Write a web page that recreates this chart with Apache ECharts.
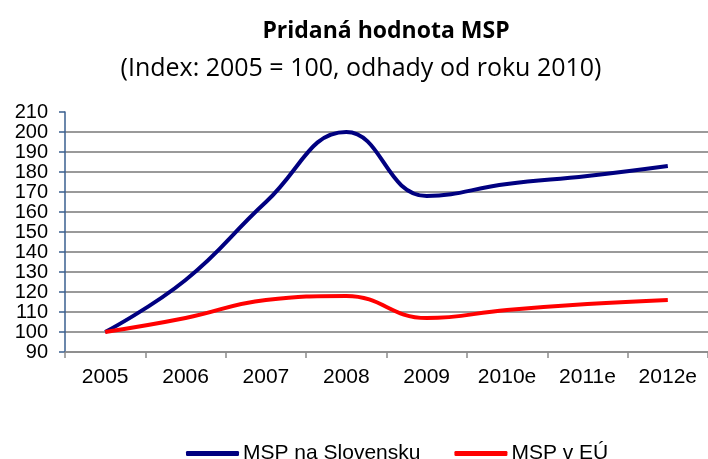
<!DOCTYPE html>
<html><head><meta charset="utf-8">
<script src="https://cdn.jsdelivr.net/npm/echarts@6/dist/echarts.min.js"></script>
<style>html,body{margin:0;padding:0;background:#fff}#c{width:708px;height:459px}</style>
</head><body><div id="c"></div>
<script>
const categories = ['2005','2006','2007','2008','2009','2010e','2011e','2012e'];
const seriesNames = ['MSP na Slovensku','MSP v EÚ'];
const slovensko = [100, 126, 165, 200, 168, 174, 178, 183];
const eu = [100, 107, 116, 118, 107, 111, 114, 116];
const yTicks = {min: 90, max: 210, interval: 10};

const chart = echarts.init(document.getElementById('c'));
const splitColors = [];
for (let v = yTicks.min; v <= yTicks.max; v += yTicks.interval) splitColors.push(v === yTicks.max ? 'rgba(0,0,0,0)' : '#9a9a9a');
chart.setOption({
  animation: false,
  title: [
    {text: 'Pridaná hodnota MSP', left: 381, top: 15, textAlign: 'center',
     textStyle: {fontFamily: 'Open Sans', fontWeight: 'bold', fontSize: 23, color: '#000'}},
    {text: '(Index: 2005 = 100, odhady od roku 2010)', left: 356, top: 51, textAlign: 'center',
     textStyle: {fontFamily: 'Open Sans', fontWeight: 'normal', fontSize: 25, color: '#000'}}
  ],
  grid: {left: 65, right: -2, top: 112, bottom: 107, containLabel: false},
  legend: {
    top: 443, left: 186, itemWidth: 53, itemHeight: 5, itemGap: 34, padding: 0,
    icon: 'roundRect',
    textStyle: {fontFamily: 'Liberation Sans', fontSize: 21, color: '#000', padding: [0,0,0,-1]},
    data: seriesNames
  },
  xAxis: {
    type: 'category', data: categories, boundaryGap: true,
    axisLine: {lineStyle: {color: '#8c8c8c', width: 1.5}},
    axisTick: {show: true, length: 6, lineStyle: {color: '#8c8c8c', width: 1.5}},
    axisLabel: {fontFamily: 'Liberation Sans', fontSize: 21, color: '#000', margin: 15}
  },
  yAxis: {
    type: 'value', min: yTicks.min, max: yTicks.max, interval: yTicks.interval,
    axisLine: {show: true, lineStyle: {color: '#3a5f8f', width: 1.5}},
    axisTick: {show: true, length: 6, lineStyle: {color: '#3a5f8f', width: 1.5}},
    axisLabel: {fontFamily: 'Liberation Sans', fontSize: 20, color: '#000', margin: 17},
    splitLine: {show: true, lineStyle: {color: splitColors, width: 2}}
  },
  series: [
    {name: seriesNames[0], type: 'line', data: slovensko, smooth: 0.45, symbol: 'none',
     lineStyle: {color: '#000080', width: 4}, itemStyle: {color: '#000080'}},
    {name: seriesNames[1], type: 'line', data: eu, smooth: 0.45, symbol: 'none',
     lineStyle: {color: '#ff0000', width: 4}, itemStyle: {color: '#ff0000'}}
  ]
});
</script></body></html>
